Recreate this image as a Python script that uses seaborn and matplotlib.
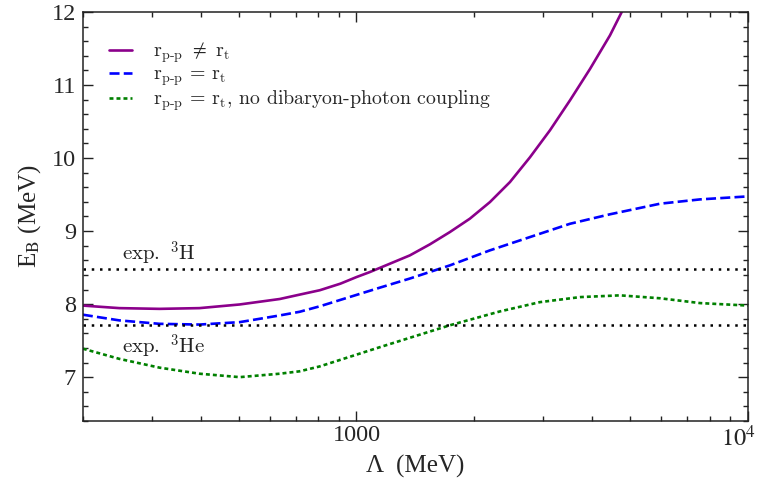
import numpy as np
import seaborn as sns
import matplotlib.pyplot as plt
import matplotlib.transforms as mtransforms
from matplotlib.ticker import MultipleLocator, NullFormatter

# values
lam_a = [200, 248, 314, 397, 503, 637, 716, 806, 910, 1000, 1081, 1217, 1369, 1540,
         1732, 1949, 2193, 2467, 2775, 3122, 3512, 3951, 4444, 4762]
eb_a = [7.98, 7.945, 7.935, 7.945, 7.995, 8.07, 8.13, 8.19, 8.28, 8.37, 8.438, 8.553, 8.667, 8.818,
        8.986, 9.17, 9.397, 9.671, 10.01, 10.38, 10.79, 11.22, 11.68, 12.0]

lam_b = [200, 248, 314, 397, 503, 637, 716, 806, 1147, 1369, 1732, 2193, 2775, 3512,
         4444, 5966, 7551, 10000]
eb_b = [7.855, 7.777, 7.73, 7.72, 7.753, 7.845, 7.895, 7.97, 8.225, 8.35, 8.53, 8.736, 8.918, 9.1,
        9.23, 9.375, 9.434, 9.475]

lam_c = [200, 248, 314, 397, 503, 637, 716, 806, 1147, 1732, 2326, 2943, 3725, 4714,
         5966, 7551, 10000]
eb_c = [7.39, 7.25, 7.13, 7.047, 7.0, 7.047, 7.08, 7.147, 7.41, 7.71, 7.90, 8.027, 8.096, 8.12,
        8.08, 8.014, 7.98]

exp_h3 = 8.482
exp_he3 = 7.718

labels = [r"$\mathrm{r}_{\mathrm{p\text{-}p}}\ \neq\ \mathrm{r}_{\mathrm{t}}$",
          r"$\mathrm{r}_{\mathrm{p\text{-}p}}\,=\,\mathrm{r}_{\mathrm{t}}$",
          r"$\mathrm{r}_{\mathrm{p\text{-}p}}\,=\,\mathrm{r}_{\mathrm{t}}$, no dibaryon-photon coupling"]

sns.set_style("ticks")
plt.rcParams['font.family'] = ['Liberation Serif', 'DejaVu Serif']
plt.rcParams['mathtext.fontset'] = 'stix'

fig, ax = plt.subplots(figsize=(7.6, 4.8), dpi=100)
fig.subplots_adjust(left=0.109, right=0.984, top=0.975, bottom=0.123)

sns.lineplot(x=lam_a, y=eb_a, ax=ax, color='#8B008B', lw=1.9, label=labels[0])
sns.lineplot(x=lam_b, y=eb_b, ax=ax, color='#0000FF', lw=1.9,
             linestyle=(0, (3.8, 1.6)), label=labels[1])
sns.lineplot(x=lam_c, y=eb_c, ax=ax, color='#008000', lw=1.9,
             linestyle=(0, (1.5, 1.15)), label=labels[2])

ax.axhline(exp_h3, color='black', lw=1.8, linestyle=(0, (1, 2.3)))
ax.axhline(exp_he3, color='black', lw=1.8, linestyle=(0, (1, 2.3)))

txt = dict(fontsize=15, va='baseline', math_fontfamily='cm', color='#222222')
ax.text(252, 8.59, r"$\mathrm{exp.}\ {}^{3}\mathrm{H}$", **txt)
ax.text(252, 7.325, r"$\mathrm{exp.}\ {}^{3}\mathrm{He}$", **txt)

ax.set_xscale('log')
ax.set_xlim(200, 10000)
ax.set_ylim(6.4, 12)
ax.set_xticks([1000, 10000], labels=["1000", r"$10^4$"])
ax.xaxis.set_minor_formatter(NullFormatter())
ax.set_yticks([7, 8, 9, 10, 11, 12])
ax.yaxis.set_minor_locator(MultipleLocator(0.2))

ax.tick_params(which='both', direction='in', top=True, right=True,
               labelsize=17.5, width=1, color='#222222')
ax.tick_params(which='major', length=7)
ax.tick_params(which='minor', length=3.5)
ax.tick_params(axis='y', pad=5)
ax.tick_params(axis='x', pad=3)
for s in ax.spines.values():
    s.set_linewidth(1.1)
    s.set_color('#222222')

# keep the 10^4 label inside the figure, as in the reference
lbl = ax.get_xticklabels()[1]
lbl.set_transform(lbl.get_transform() +
                  mtransforms.ScaledTranslation(-7 / 72, 0, fig.dpi_scale_trans))

ax.set_xlabel("Λ  (MeV)", fontsize=18, labelpad=3)
ax.set_ylabel(r"E$_{\mathrm{B}}$ (MeV)", fontsize=18, labelpad=6)

ax.legend(loc='upper left', bbox_to_anchor=(0.028, 0.95), frameon=False,
          prop={'family': 'cmr10', 'size': 14.3, 'math_fontfamily': 'cm'},
          handlelength=1.15, handletextpad=1.05, labelspacing=0.04,
          borderaxespad=0)

fig.savefig("out.png", dpi=100)
